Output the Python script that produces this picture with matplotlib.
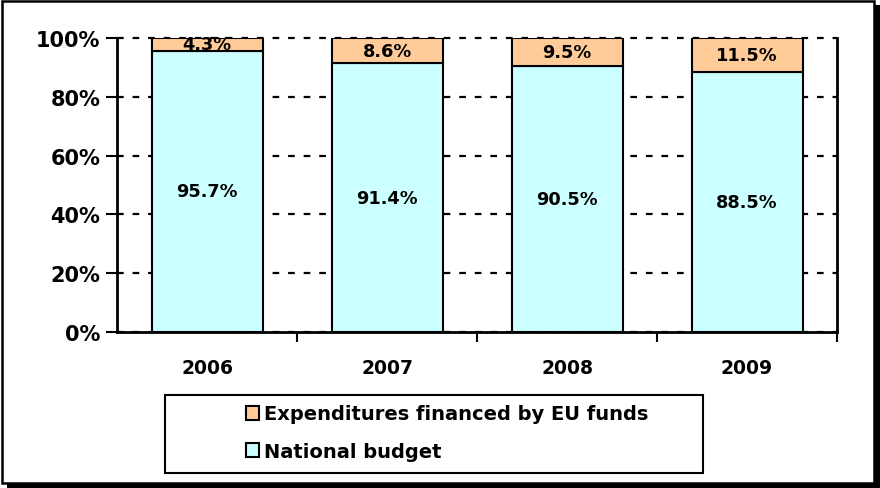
import matplotlib.pyplot as plt
from matplotlib.patches import Rectangle
from matplotlib.ticker import PercentFormatter

years = ["2006", "2007", "2008", "2009"]
national = [95.7, 91.4, 90.5, 88.5]
eu_funds = [4.3, 8.6, 9.5, 11.5]

cyan = "#CCFFFF"
orange = "#FFCC99"
W, H = 880, 489

fig = plt.figure(figsize=(W / 100, H / 100), dpi=100)
plt.rcParams["font.family"] = "DejaVu Sans"

# outer chart frame with shadow (pixel coords -> figure fraction)
def px(x0, y0, x1, y1, **kw):
    fig.patches.append(Rectangle((x0 / W, 1 - y1 / H), (x1 - x0) / W, (y1 - y0) / H,
                                 transform=fig.transFigure, **kw))

px(874, 6, 880, 489, color="black", lw=0)
px(7, 484, 880, 489, color="black", lw=0)
px(1.5, 1.5, 874, 484, fill=False, ec="black", lw=1.8)

ax = fig.add_axes([117 / W, 1 - 333 / H, (837 - 117) / W, (333 - 39) / H])
x = range(len(years))
bw = 111 / 180
b1 = ax.bar(x, national, bw, color=cyan, edgecolor="black", lw=1.5, zorder=3,
            label="National budget")
b2 = ax.bar(x, eu_funds, bw, bottom=national, color=orange, edgecolor="black", lw=1.5,
            zorder=3, label="Expenditures financed by EU funds")

for i in x:
    ax.text(i, national[i] / 2, f"{national[i]}%", ha="center", va="center",
            fontsize=12.8, fontweight="bold", zorder=4)
    ax.text(i, national[i] + eu_funds[i] / 2, f"{eu_funds[i]}%", ha="center",
            va="center", fontsize=12.8, fontweight="bold", zorder=4, clip_on=False)

ax.set_xlim(-0.5, 3.5)
ax.set_ylim(0, 100)
ax.set_yticks(range(0, 101, 20))
ax.yaxis.set_major_formatter(PercentFormatter(decimals=0))
ax.set_xticks(list(x))
ax.set_xticklabels(years)
ax.set_xticks([0.5, 1.5, 2.5, 3.5], minor=True)
ax.tick_params(axis="x", which="major", length=0, pad=19, labelsize=13.5)
ax.tick_params(axis="x", which="minor", length=7, width=1.5, direction="out")
ax.tick_params(axis="y", length=8, width=1.5, labelsize=15, pad=4)
for lab in ax.get_xticklabels() + ax.get_yticklabels():
    lab.set_fontweight("bold")
ax.grid(axis="y", color="black", linestyle=(0, (3, 4)), lw=1.6, zorder=1)
for gl in ax.get_ygridlines():
    gl.set_clip_on(False)
for s in ["left", "bottom", "right"]:
    ax.spines[s].set_linewidth(2)
ax.spines["top"].set_visible(False)

# legend box
px(165, 396, 703, 474, fill=False, ec="black", lw=1.5)
fig.legend([b2, b1], ["Expenditures financed by EU funds", "National budget"],
           loc="upper left", bbox_to_anchor=(228 / W, 1 - 388 / H), frameon=False,
           handlelength=0.7, handleheight=0.7, handletextpad=0.25, labelspacing=0.95,
           prop={"weight": "bold", "size": 14})

fig.savefig("out.png", dpi=100)
